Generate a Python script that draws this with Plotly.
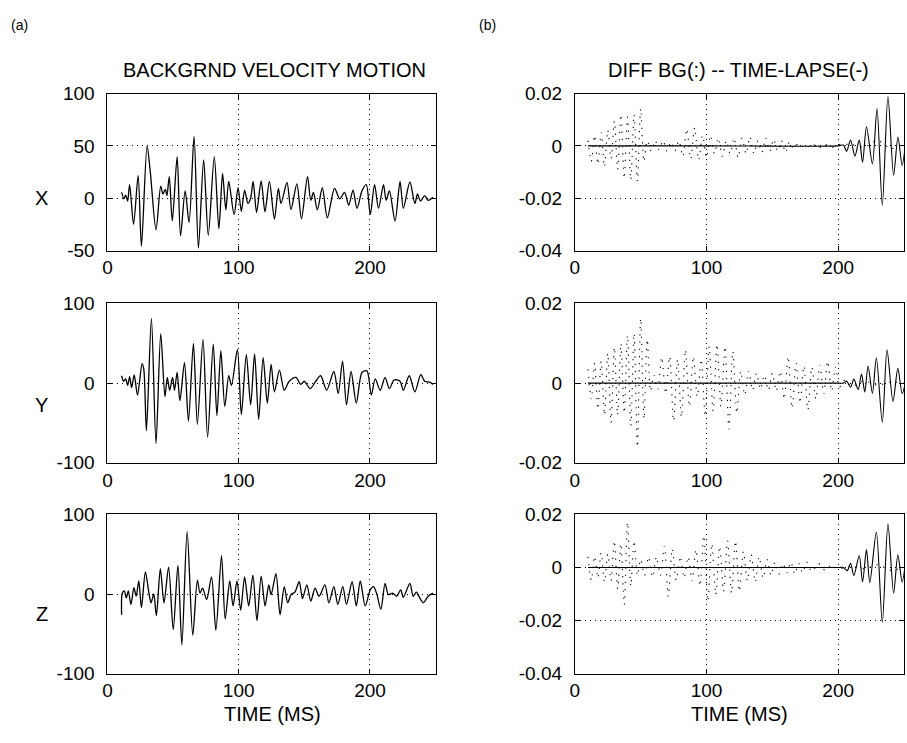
import plotly.graph_objects as go
from plotly.subplots import make_subplots

# ---------------- data ----------------
# Left column: background velocity motion, extrema (time ms, amplitude)
x_t = [10.8, 12.6, 13.9, 15.4, 16.9, 19.9, 23.4, 25.9, 30.2, 32.7, 37.0, 40.6, 42.3, 44.1, 45.3, 47.1,
       49.4, 53.1, 55.7, 59.2, 62.2, 66.0, 69.3, 73.3, 76.8, 81.4, 84.9, 87.7, 90.2, 92.4, 96.5, 99.5,
       102.0, 104.5, 107.0, 109.0, 111.0, 113.6, 117.1, 120.0, 123.4, 127.2, 130.2, 132.2, 136.8, 139.8,
       144.3, 147.8, 152.4, 154.9, 156.9, 159.9, 163.7, 167.5, 173.0, 177.0, 180.6, 183.8, 187.1, 190.1,
       193.9, 197.2, 200.2, 203.5, 206.5, 210.3, 212.3, 214.8, 219.1, 222.9, 225.4, 230.4, 234.2, 236.2,
       238.5, 241.7, 244.3, 248.0]
x_v = [5.5, -0.6, 3, -2.7, 13, -24.8, 21.5, -46, 50, 24.5, -30.3, 11.5, 4, 8.5, 2.4, 20.6,
       -21.8, 39.7, -36, 7, -23.3, 59, -47.6, 36.7, -35.5, 39.7, -29.4, 23.6, -11.2, 16, -15.8, 10,
       -12.7, 7.6, -5, -0.6, 16, -13.6, 16.5, -13, 16, -20, 9.4, -5, 15, -11,
       13.6, -19.7, 20.6, -2, 5.5, -11.2, 10, -18.8, 9.4, -0.6, 5.5, -6.7, 7.6, -9.7,
       7, 13, -15.8, 13, -9.7, 13, -2, 7, -21.8, 16, -9.7, 15.5, -5, 4,
       -2.7, 2.4, -2, 1]

y_t = [10.8, 12.3, 13.9, 15.4, 16.9, 18.4, 20.4, 22.9, 26.4, 27.7, 29.7, 33.5, 37.0, 40.6, 43.8, 45.6,
       47.4, 49.6, 51.1, 53.1, 55.2, 58.7, 61.7, 65.5, 68.5, 72.8, 76.3, 80.6, 83.4, 86.4, 89.4, 92.4,
       94.5, 99.0, 102.0, 105.8, 109.1, 112.1, 115.2, 118.6, 121.8, 124.7, 127.2, 131.0, 134.7, 138.5,
       143.6, 147.3, 149.9, 154.4, 158.7, 162.4, 167.0, 172.5, 175.8, 179.1, 182.1, 185.6, 189.6, 193.9,
       197.7, 201.0, 204.0, 207.8, 211.5, 214.8, 218.3, 222.9, 225.4, 229.9, 234.2, 238.7, 241.7, 245.5,
       248.0]
y_v = [9.3, 2.4, 5.3, -2.8, 8.1, -5.7, 10.2, -15, 24.4, 17.5, -59.8, 81.3, -76, 62.2, -17, 7.3,
       -8.9, 7.3, -8.9, 13.4, -22, 25.6, -47.6, 50, -51.6, 54.9, -67.9, 48.8, -40.7, 40.7, -29.3, 9.3,
       -2.8, 41.9, -39.4, 35.8, -27.2, 36.6, -45.5, 32, -25.2, 23.6, -11, 16.3, -8.9, 2.4,
       7.3, -1.6, 2.4, -6.9, 2.4, 9.3, -8.9, 14.6, -13, 27.6, -27.2, 14.6, -25.2, 13.4,
       15.4, -15, 5.3, -8.9, 7.3, -6.9, 4, 2.4, -8.9, 9.3, -11, 10.6, 2.4, 1.2,
       -1.6]

z_t = [10.8, 11.3, 12.8, 14.4, 15.9, 17.9, 20.2, 21.9, 23.9, 25.9, 28.9, 31.5, 33.2, 35.3, 37.3, 40.3,
       43.1, 46.6, 50.1, 53.7, 56.7, 60.7, 65.0, 68.5, 70.5, 72.5, 75.6, 79.3, 82.6, 86.9, 89.7, 93.2,
       95.7, 98.7, 101.5, 104.5, 107.6, 110.8, 113.9, 117.1, 120.1, 122.9, 124.7, 128.4, 131.5, 134.7,
       137.3, 139.8, 142.8, 146.1, 148.6, 151.9, 154.9, 158.2, 161.2, 165.7, 168.7, 172.5, 175.5, 179.3,
       182.1, 186.4, 189.6, 192.6, 196.4, 200.2, 202.7, 205.2, 208.3, 211.5, 214.0, 217.3, 220.3, 223.4,
       225.4, 230.4, 232.9, 235.4, 237.9, 240.5, 244.3, 248.0]
z_v = [-26, 1.2, 4, -4.9, 4, -13, 8.1, -2.8, 16.3, -17, 27.6, 2.4, -11, 0, -27.2, 31.7,
       -11, 33.7, -44.7, 35.8, -63.8, 78.5, -51.6, 17.5, 1.2, 7.3, -6.9, 21.5, -45.5, 48, -31.3, 16.3,
       -15, 16.3, -20.3, 21.5, -15, 23.6, -33.3, 22.5, -15, 11.4, -0.8, 25.6, -26, 9.3,
       -11, -0.8, 2.4, 15.4, -5.7, 11.4, -8.9, 7.3, -2.8, 11.4, -11, 9.3, -13, 9.3,
       -13, 15.4, -15, 16.3, -15, 5.3, 9.3, 0, -19.1, 13.4, -0.8, 1.2, -2.8, 5.3,
       -4.1, 13.4, -2.8, 2.4, -4.9, -11, -2.8, 1.2]

# Right column: time-lapse difference (solid) and background difference (dotted)
s1_t = [10, 100, 200, 204, 206.4, 209.4, 212.7, 216.0, 218.5, 221.5, 226.0, 229.5, 233.5, 237.8, 242.1, 245.4, 248.6, 251.6]
s1_v = [0, 0, 0, 0.0003, -0.0021, 0.0022, -0.0039, 0.0022, -0.0063, 0.0073, -0.0069, 0.0143, -0.0227, 0.0189, -0.0112, 0.0034, -0.0075, 0.004]
s2_t = [10, 100, 200, 203.9, 206.4, 209.4, 211.9, 215.2, 217.7, 220.2, 222.7, 226.0, 229.0, 233.5, 237.1, 241.6, 245.3, 248.6, 251.6]
s2_v = [0, 0, 0, 0, 0.0005, -0.001, 0.001, -0.0016, 0.0023, -0.0022, 0.0043, -0.0026, 0.0063, -0.0098, 0.0084, -0.0046, 0.0037, -0.0026, 0.001]
s3_t = [10, 100, 200, 203.9, 206.9, 209.4, 211.9, 216.0, 218.5, 221.5, 224.0, 229.0, 233.5, 237.8, 242.1, 245.3, 248.6, 251.6]
s3_v = [0, 0, 0, 0, -0.0012, 0.0016, -0.003, 0.0045, -0.0055, 0.0067, -0.0057, 0.0133, -0.0206, 0.0164, -0.0097, 0.0048, -0.0055, 0.0042]

d1_t = [10, 12.5, 15, 17.5, 20, 22.5, 25, 27.5, 30, 32.5, 35, 37.5, 40, 42.5, 45, 47.5, 50, 52.5, 55, 58,
        61, 64, 67, 70, 73, 76, 79, 82, 85, 88, 91, 94, 97, 100, 103, 106, 109, 112, 115, 118,
        121, 124, 127, 130, 133, 136, 139, 142, 145, 148, 151, 154, 157, 160, 163, 166, 170, 175, 180, 185,
        190, 195, 200, 210, 220, 230, 240, 250]
d1_v = [0.002, -0.006, 0.004, -0.007, 0.005, -0.008, 0.006, -0.005, 0.0095, -0.009, 0.012, -0.0125, 0.011, -0.013, 0.012, -0.0135, 0.0143, -0.006, 0.002, -0.002,
        0.002, -0.0015, 0.002, -0.002, 0.0015, -0.002, 0.002, -0.004, 0.0065, -0.005, 0.007, -0.0055, 0.004, -0.0045, 0.004, -0.003, 0.003, -0.004, 0.002, -0.003,
        0.003, -0.0045, 0.003, -0.003, 0.0035, -0.003, 0.002, -0.0025, 0.003, -0.002, 0.0025, -0.002, 0.002, -0.0025, 0.0015, -0.001, 0.001, -0.001, 0.0008, -0.0008,
        0.0006, -0.0006, 0.0004, 0.0005, -0.0005, 0.002, -0.001, 0.0005]
d2_t = [10, 12.5, 15, 17.5, 20, 22.5, 25, 27.5, 30, 32.5, 35, 37.5, 40, 42.5, 45, 47.5, 50, 52.5, 55, 57.5,
        60, 63, 66, 69, 72, 75, 78, 81, 84, 87, 90, 93, 96, 99, 102, 105, 108, 111, 114, 117,
        120, 123, 126, 129, 132, 135, 138, 141, 144, 147, 150, 153, 156, 159, 162, 165, 168, 171, 174, 177,
        180, 183, 186, 189, 192, 195, 198, 201, 205, 210, 220, 230, 240, 250]
d2_v = [0.0035, -0.004, 0.005, -0.0065, 0.0055, -0.008, 0.0075, -0.0099, 0.009, -0.008, 0.01, -0.0075, 0.012, -0.0107, 0.0125, -0.016, 0.0163, -0.009, 0.011, -0.002,
        0.002, -0.0015, 0.0065, -0.0026, 0.0067, -0.0095, 0.006, -0.0085, 0.0084, -0.0059, 0.0067, -0.0034, 0.006, -0.0083, 0.0092, -0.007, 0.0098, -0.0059, 0.0092, -0.0115,
        0.008, -0.0075, 0.003, -0.003, 0.003, -0.0018, 0.0025, -0.0015, 0.002, -0.0018, 0.0025, -0.002, 0.003, -0.004, 0.0067, -0.0063, 0.005, -0.005, 0.0043, -0.0067,
        0.004, -0.004, 0.0045, -0.0026, 0.0055, -0.002, 0.004, -0.001, 0.0008, -0.0008, 0.0005, -0.0005, 0.0003, 0]
d3_t = [10, 12.5, 15, 17.5, 20, 22.5, 25, 27.5, 30, 32.5, 35, 37.5, 40, 42.5, 45, 47.5, 50, 53, 56, 59,
        62, 65, 68, 71, 74, 77, 80, 83, 86, 89, 92, 95, 98, 101, 104, 107, 110, 113, 116, 119,
        122, 125, 128, 131, 134, 137, 140, 143, 146, 149, 152, 155, 158, 161, 164, 167, 170, 173, 176, 180,
        185, 190, 195, 200, 210, 220, 230, 240, 250]
d3_v = [0.004, -0.0048, 0.0042, -0.004, 0.0055, -0.0055, 0.005, -0.005, 0.01, -0.008, 0.009, -0.014, 0.017, -0.007, 0.01, -0.003, 0.003, -0.003, 0.004, -0.0036,
        0.004, -0.003, 0.008, -0.011, 0.007, -0.0048, 0.0042, -0.004, 0.004, -0.005, 0.0067, -0.007, 0.012, -0.0127, 0.009, -0.0103, 0.008, -0.009, 0.01, -0.0097,
        0.01, -0.009, 0.006, -0.005, 0.0048, -0.0055, 0.004, -0.004, 0.003, -0.003, 0.002, -0.0025, 0.0015, -0.002, 0.002, -0.0025, 0.0015, -0.002, 0.002, -0.0015,
        0.0015, -0.001, 0.001, -0.0005, 0.0005, -0.0005, 0.001, -0.001, 0]

row_labels = ["X", "Y", "Z"]
left_yranges = [[-50, 100], [-100, 100], [-100, 100]]
left_yticks = [[-50, 0, 50, 100], [-100, 0, 100], [-100, 0, 100]]
left_yticktext = [["-50", "0", "50", "100"], ["-100", "0", "100"], ["-100", "0", "100"]]
right_yranges = [[-0.04, 0.02], [-0.02, 0.02], [-0.04, 0.02]]
right_yticks = [[-0.04, -0.02, 0, 0.02], [-0.02, 0, 0.02], [-0.04, -0.02, 0, 0.02]]
right_yticktext = [["-0.04", "-0.02", "0", "0.02"], ["-0.02", "0", "0.02"], ["-0.04", "-0.02", "0", "0.02"]]
x_ticks = [0, 100, 200]
x_range = [0, 250]

# ---------------- figure ----------------
W, H = 907, 743
FONT = "Liberation Sans, Arial, sans-serif"
TICK_SIZE = 19
fig = make_subplots(rows=3, cols=2)

left_series = [(x_t, x_v), (y_t, y_v), (z_t, z_v)]
solid_series = [(s1_t, s1_v), (s2_t, s2_v), (s3_t, s3_v)]
dot_series = [(d1_t, d1_v), (d2_t, d2_v), (d3_t, d3_v)]

for r in range(3):
    t, v = left_series[r]
    fig.add_trace(go.Scatter(x=t, y=v, mode="lines", line=dict(color="black", width=1.3, shape="spline", smoothing=0.8),
                             showlegend=False, hoverinfo="skip"), row=r + 1, col=1)
    t, v = dot_series[r]
    fig.add_trace(go.Scatter(x=t, y=v, mode="lines", line=dict(color="black", width=1.1, shape="spline", smoothing=0.8, dash="1.2px,6px"),
                             showlegend=False, hoverinfo="skip"), row=r + 1, col=2)
    t, v = solid_series[r]
    fig.add_trace(go.Scatter(x=t, y=v, mode="lines", line=dict(color="black", width=1.1, shape="spline", smoothing=0.8),
                             showlegend=False, hoverinfo="skip"), row=r + 1, col=2)

# pixel layout of plot boxes
left_x = [103, 433]
right_x = [573, 904]
rows_y = [(86, 247.5), (302, 466), (519, 683)]

axis_common = dict(showline=True, linecolor="black", linewidth=1, mirror="ticks", ticks="inside", ticklen=5,
                   tickcolor="black", showgrid=True, gridcolor="black", gridwidth=1, griddash="1px,4px",
                   zeroline=False, tickfont=dict(family=FONT, size=TICK_SIZE, color="black"))

for r in range(3):
    top, bot = rows_y[r]
    ydom = [1 - bot / H, 1 - top / H]
    for c in range(2):
        xs = left_x if c == 0 else right_x
        xdom = [xs[0] / W, xs[1] / W]
        fig.update_xaxes(domain=xdom, range=x_range, tickvals=x_ticks, ticklabelstandoff=0,
                         **axis_common, row=r + 1, col=c + 1)
        if c == 0:
            fig.update_yaxes(domain=ydom, range=left_yranges[r], tickvals=left_yticks[r], ticktext=left_yticktext[r],
                             ticklabelstandoff=8, **axis_common, row=r + 1, col=1)
        else:
            fig.update_yaxes(domain=ydom, range=right_yranges[r], tickvals=right_yticks[r], ticktext=right_yticktext[r],
                             ticklabelstandoff=8, **axis_common, row=r + 1, col=2)

ann = []
def add_text(txt, xpx, ypx, size, xanchor="center"):
    ann.append(dict(text=txt, x=xpx / W, y=1 - ypx / H, xref="paper", yref="paper", showarrow=False,
                    xanchor=xanchor, yanchor="middle", font=dict(family=FONT, size=size, color="black")))

add_text("(a)", 4, 15, 14, "left")
add_text("(b)", 475, 15, 14, "left")
add_text("BACKGRND VELOCITY MOTION", 271, 62, 20)
add_text("DIFF BG(:) -- TIME-LAPSE(-)", 738, 62, 20)
add_text(row_labels[0], 37, 193, 20)
add_text(row_labels[1], 37, 407, 20)
add_text(row_labels[2], 37, 622, 20)
add_text("TIME (MS)", 269, 724, 20)
add_text("TIME (MS)", 739, 724, 20)

fig.update_layout(width=W, height=H, margin=dict(l=0, r=0, t=0, b=0), paper_bgcolor="white", plot_bgcolor="white",
                  annotations=ann, showlegend=False, font=dict(family=FONT, color="black"))

fig.write_html("out.html")
